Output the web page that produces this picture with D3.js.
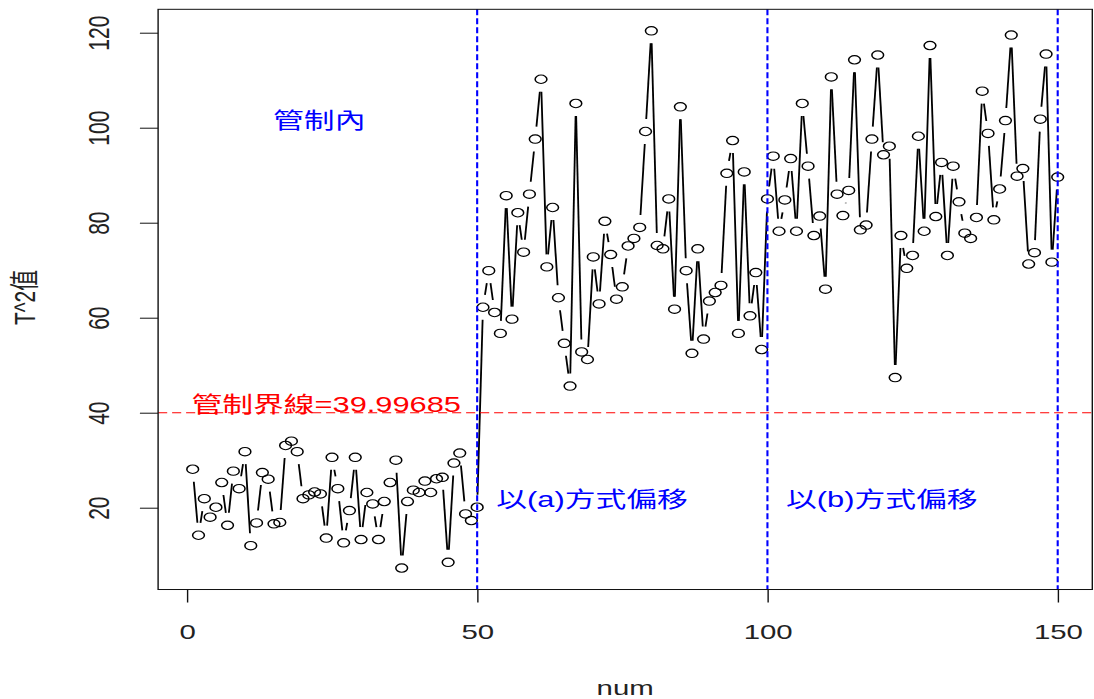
<!DOCTYPE html>
<html><head><meta charset="utf-8">
<script src="https://cdn.jsdelivr.net/npm/d3@7"></script>
<style>body{margin:0;background:#fff;overflow:hidden} svg{display:block}</style>
</head><body>
<svg id="c"></svg>
<script>
// ---- data ----
const phase1 = [28.1,14.2,21.9,18.0,20.1,25.3,16.3,27.7,24.0,31.8,12.0,16.8,27.4,26.0,16.6,16.9,33.1,34.0,31.8,21.9,
  22.7,23.3,22.9,13.6,30.6,24.0,12.6,19.4,30.6,13.3,23.2,20.8,13.3,21.3,25.3,30.0,7.3,21.3,23.7,23.2,
  25.6,23.2,26.1,26.4,8.5,29.4,31.5,18.7,17.3,20.1];
const phase2 = [62.2,69.9,61.1,56.7,85.7,59.7,82.1,73.8,86.0,97.6,110.2,70.7,83.2,64.2,54.6,45.6,105.1,52.8,51.2,72.8,
  62.9,80.3,73.3,63.9,66.5,75.1,76.7,79.0,99.2,120.4,75.2,74.5,85.0,61.8,104.4,69.9,52.5,74.5,55.5,63.5,
  65.3,66.8,90.4,97.3,56.7,90.7,60.4,69.5,53.3,85.0];
const phase3 = [94.0,78.2,84.8,93.5,78.2,105.1,91.9,77.3,81.4,66.0,110.7,86.0,81.5,86.8,114.3,78.5,79.5,97.6,115.3,94.3,
  96.1,47.4,77.3,70.4,73.1,98.2,78.2,117.3,81.3,92.7,73.1,91.9,84.4,77.8,76.7,81.1,107.7,98.8,80.6,87.1,
  101.5,119.5,89.8,91.4,71.3,73.7,101.8,115.5,71.7,89.6];
const limitValue = 39.99685;
const shiftLines = [50, 100, 150];
const xTicks = [0, 50, 100, 150];
const yTicks = [20, 40, 60, 80, 100, 120];
const xLabel = "num";
const yLabel = "T^2值";
const notes = [
  {text: "管制內", x: 22.8, y: 101.4, color: "#0000FF"},
  {text: "管制界線=39.99685", x: 24, y: 41.6, color: "#FF0000"},
  {text: "以(a)方式偏移", x: 69.8, y: 21.6, color: "#0000FF"},
  {text: "以(b)方式偏移", x: 119.7, y: 21.6, color: "#0000FF"}
];

// ---- layout: drawn at original size and stretched horizontally like the reference ----
const S = 1.4, W = 1094, H = 699, W0 = W / S;
const values = phase1.concat(phase2, phase3);
const data = values.map((v, i) => ({n: i + 1, v}));

const svg = d3.select("#c").attr("width", W).attr("height", H)
  .attr("viewBox", `0 0 ${W0} ${H}`).attr("preserveAspectRatio", "none");
const FONT = "'Liberation Sans', Arial, 'Noto Sans CJK TC', sans-serif";

const x = d3.scaleLinear().domain([0, 150]).range([186.9 / S, 1057.7 / S]);
const y = d3.scaleLinear().domain([20, 120]).range([507.7, 32.7]);

const [xmin, xmax] = d3.extent(data, d => d.n);
const [ymin, ymax] = d3.extent(values);
const xpad = (xmax - xmin) * 0.04, ypad = (ymax - ymin) * 0.04;
const bx0 = x(xmin - xpad), bx1 = x(xmax + xpad), by0 = y(ymax + ypad), by1 = y(ymin - ypad);

// gapped lines (type = "b")
const gap = 12.5;
const segs = [];
for (let i = 0; i < data.length - 1; i++) {
  const x0 = x(data[i].n), y0 = y(data[i].v), x1 = x(data[i + 1].n), y1 = y(data[i + 1].v);
  const dx = x1 - x0, dy = y1 - y0, d = Math.hypot(dx, dy);
  if (d > 2 * gap) segs.push([x0 + dx * gap / d, y0 + dy * gap / d, x1 - dx * gap / d, y1 - dy * gap / d]);
}
svg.append("g").selectAll("line").data(segs).join("line")
  .attr("x1", s => s[0]).attr("y1", s => s[1]).attr("x2", s => s[2]).attr("y2", s => s[3])
  .attr("stroke", "#000").attr("stroke-width", 1.3);

svg.append("g").selectAll("circle").data(data).join("circle")
  .attr("cx", d => x(d.n)).attr("cy", d => y(d.v)).attr("r", 4.2)
  .attr("fill", "none").attr("stroke", "#000").attr("stroke-width", 1.1);

// reference lines
svg.append("line").attr("x1", bx0).attr("x2", bx1).attr("y1", y(limitValue)).attr("y2", y(limitValue))
  .attr("stroke", "#FF0000").attr("stroke-width", 1.1).attr("stroke-dasharray", "6.5,3.5");
svg.append("g").selectAll("line").data(shiftLines).join("line")
  .attr("x1", d => x(d)).attr("x2", d => x(d)).attr("y1", by0).attr("y2", by1)
  .attr("stroke", "#0000FF").attr("stroke-width", 1.5).attr("stroke-dasharray", "6,3");

// box
svg.append("rect").attr("x", bx0).attr("y", by0).attr("width", bx1 - bx0).attr("height", by1 - by0)
  .attr("fill", "none").attr("stroke", "#111").attr("stroke-width", 1);

// x axis
const xa = svg.append("g").attr("transform", `translate(0,${by1})`)
  .call(d3.axisBottom(x).tickValues(xTicks).tickSize(13).tickPadding(36).tickFormat(d3.format("d")));
xa.select(".domain").remove();
xa.selectAll("line").attr("stroke", "#111");
xa.selectAll("text").attr("font-family", FONT).attr("font-size", 21).attr("fill", "#222").attr("dy", 0);

// y axis
const ya = svg.append("g").attr("transform", `translate(${bx0},0)`)
  .call(d3.axisLeft(y).tickValues(yTicks).tickSize(13).tickFormat(d3.format("d")));
ya.select(".domain").remove();
ya.selectAll("line").attr("stroke", "#111");
ya.selectAll("text").attr("font-family", FONT).attr("font-size", 21).attr("fill", "#222")
  .attr("text-anchor", "middle").attr("x", 0).attr("dy", 0)
  .attr("dominant-baseline", "central")
  .attr("transform", `translate(${70.6 - bx0},0) rotate(-90)`);

// axis titles
svg.append("text").attr("x", (bx0 + bx1) / 2).attr("y", 695).attr("text-anchor", "middle")
  .attr("font-family", FONT).attr("font-size", 21).attr("fill", "#222").text(xLabel);
svg.append("text").attr("transform", `translate(17.5,${(by0 + by1) / 2 - 2}) rotate(-90)`)
  .attr("text-anchor", "middle").attr("dominant-baseline", "central")
  .attr("font-family", FONT).attr("font-size", 21).attr("fill", "#222").text(yLabel);

// annotations
svg.append("g").selectAll("text").data(notes).join("text")
  .attr("x", d => x(d.x)).attr("y", d => y(d.y)).attr("text-anchor", "middle")
  .attr("dominant-baseline", "central")
  .attr("font-family", FONT).attr("font-size", 22).attr("fill", d => d.color).text(d => d.text);
</script>
</body></html>
